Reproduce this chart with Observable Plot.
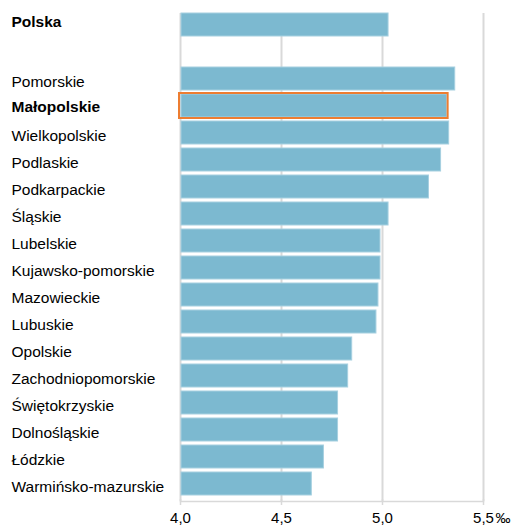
<!DOCTYPE html>
<html>
<head>
<meta charset="utf-8">
<script src="https://cdn.jsdelivr.net/npm/d3@7"></script>
<script src="https://cdn.jsdelivr.net/npm/@observablehq/plot@0.6"></script>
<style>
  html, body { margin: 0; padding: 0; background: #fff; }
  #chart svg { display: block; }
</style>
</head>
<body>
<div id="chart"></div>
<script>
const regions = ["Polska","Pomorskie","Małopolskie","Wielkopolskie","Podlaskie","Podkarpackie","Śląskie","Lubelskie","Kujawsko-pomorskie","Mazowieckie","Lubuskie","Opolskie","Zachodniopomorskie","Świętokrzyskie","Dolnośląskie","Łódzkie","Warmińsko-mazurskie"];
const values = [5.03,5.36,5.32,5.33,5.29,5.23,5.03,4.99,4.99,4.98,4.97,4.85,4.83,4.78,4.78,4.71,4.65];
const boldLabels = ["Polska","Małopolskie"];
const highlighted = "Małopolskie";
const xTicks = [4.0,4.5,5.0,5.5];
const xTickLabels = ["4,0","4,5","5,0","5,5"];
const unitLabel = "‰";

const data = regions.map((r, i) => ({region: r, value: values[i]}));
const yDomain = [regions[0], "", ...regions.slice(1)];
const font = "'Liberation Sans', Arial, sans-serif";
const labelOpts = {
  y: "region", text: "region", frameAnchor: "left", textAnchor: "start",
  dx: -169, fontSize: 15.5, fill: "#000"
};

const chart = Plot.plot({
  width: 512,
  height: 526,
  marginLeft: 180,
  marginRight: 29,
  marginTop: 9,
  marginBottom: 27,
  style: {fontFamily: font, background: "#fff"},
  x: {domain: [4, 5.5], ticks: xTicks, axis: null},
  y: {domain: yDomain, axis: null, paddingInner: 0.15, paddingOuter: 0.075},
  marks: [
    Plot.ruleX(xTicks, {stroke: "#d9d9d9", strokeOpacity: 1, strokeWidth: 2, insetTop: 4, insetBottom: -2}),
    Plot.frame({anchor: "bottom", stroke: "#d9d9d9", strokeOpacity: 1, strokeWidth: 1.5, dy: 2}),
    Plot.barX(data, {
      x1: 4, x2: "value", y: "region",
      fill: "#7cb9d0", stroke: "#a6d0e0", strokeWidth: 1, insetLeft: 1
    }),
    Plot.barX(data.filter(d => d.region === highlighted), {
      x1: 4, x2: "value", y: "region",
      fill: "none", stroke: "#ed7d31", strokeWidth: 2, insetLeft: -1, insetRight: -1, insetTop: -1, insetBottom: -1
    }),
    Plot.text(data.filter(d => d.region === regions[0]), {...labelOpts, dy: -3, fontWeight: "bold"}),
    Plot.text(data.filter(d => d.region !== regions[0] && boldLabels.includes(d.region)), {...labelOpts, dy: 1, fontWeight: "bold"}),
    Plot.text(data.filter(d => !boldLabels.includes(d.region)), {...labelOpts, dy: 3}),
    Plot.axisX({
      ticks: xTicks, tickFormat: d => xTickLabels[xTicks.indexOf(d)], label: null,
      tickSize: 6, tickPadding: 7, fontSize: 15, stroke: "#d9d9d9", strokeOpacity: 1, strokeWidth: 1.5, color: "#000"
    }),
    Plot.text([xTicks[xTicks.length - 1]], {
      x: d => d, text: () => unitLabel, frameAnchor: "bottom", textAnchor: "start",
      lineAnchor: "top", dx: 12, dy: 13, fontSize: 15, fill: "#000"
    })
  ]
});
document.getElementById("chart").append(chart);
</script>
</body>
</html>
